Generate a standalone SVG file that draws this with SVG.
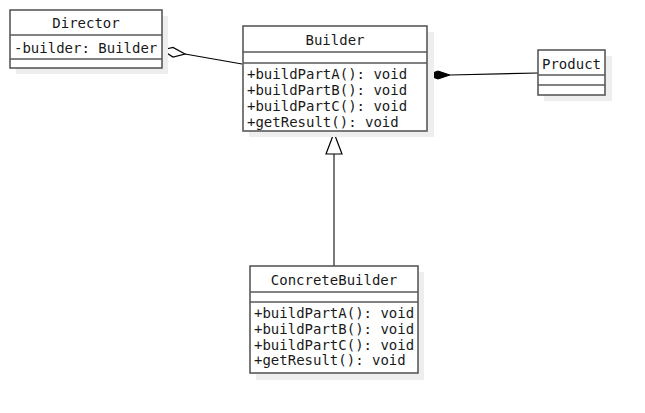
<svg xmlns="http://www.w3.org/2000/svg" width="645" height="413" viewBox="0 0 645 413">
<style>
.sh{fill:#eeeeee;stroke:none}
.bx{fill:#ffffff;stroke:#595959;stroke-width:1.6}
.ln{stroke:#595959;stroke-width:1.6;fill:none}
.t{font-family:"DejaVu Sans Mono","Liberation Mono",monospace;font-size:14px;fill:#1a1a1a}
.c{text-anchor:middle}
.e{stroke:#000;stroke-width:1.2;fill:none}
</style>
<rect width="645" height="413" fill="#ffffff"/>
<g id="connectors">
<path class="e" d="M185,54 L242,64"/>
<path d="M162,50 L173,47.5 L185,54 L173,57 Z" fill="#ffffff" stroke="#000" stroke-width="1.2"/>
<path class="e" d="M450,75 L538,73"/>
<path d="M427,75 L438,71 L450,75 L438,79 Z" fill="#000" stroke="#000" stroke-width="1"/>
<path d="M334,154 L334,266" stroke="#595959" stroke-width="1.6" fill="none"/>
<path d="M334,133 L342,154 L326,154 Z" fill="#ffffff" stroke="#000" stroke-width="1.2"/>
</g>
<g id="Director">
<rect class="sh" x="16" y="16" width="152" height="58"/>
<rect class="bx" x="10" y="10" width="152" height="58"/>
<path class="ln" d="M10,35 H162 M10,59 H162"/>
<text class="t c" x="86" y="28">Director</text>
<text class="t" x="14" y="53">-builder: Builder</text>
</g>
<g id="Builder">
<rect class="sh" x="249" y="32" width="185" height="105"/>
<rect class="bx" x="243" y="26" width="184" height="105"/>
<path class="ln" d="M243,52 H427 M243,63 H427"/>
<text class="t c" x="335" y="45">Builder</text>
<text class="t" x="247" y="79">+buildPartA(): void</text>
<text class="t" x="247" y="95">+buildPartB(): void</text>
<text class="t" x="247" y="111">+buildPartC(): void</text>
<text class="t" x="247" y="127">+getResult(): void</text>
</g>
<g id="Product">
<rect class="sh" x="544" y="56" width="68" height="45"/>
<rect class="bx" x="538" y="50" width="67" height="45"/>
<path class="ln" d="M538,75 H605 M538,85 H605"/>
<text class="t c" x="571.5" y="69">Product</text>
</g>
<g id="ConcreteBuilder">
<rect class="sh" x="256" y="272" width="168" height="108"/>
<rect class="bx" x="250" y="266" width="168" height="107"/>
<path class="ln" d="M250,292 H418 M250,302 H418"/>
<text class="t c" x="334" y="285">ConcreteBuilder</text>
<text class="t" x="254" y="318">+buildPartA(): void</text>
<text class="t" x="254" y="334">+buildPartB(): void</text>
<text class="t" x="254" y="350">+buildPartC(): void</text>
<text class="t" x="254" y="365">+getResult(): void</text>
</g>
</svg>
